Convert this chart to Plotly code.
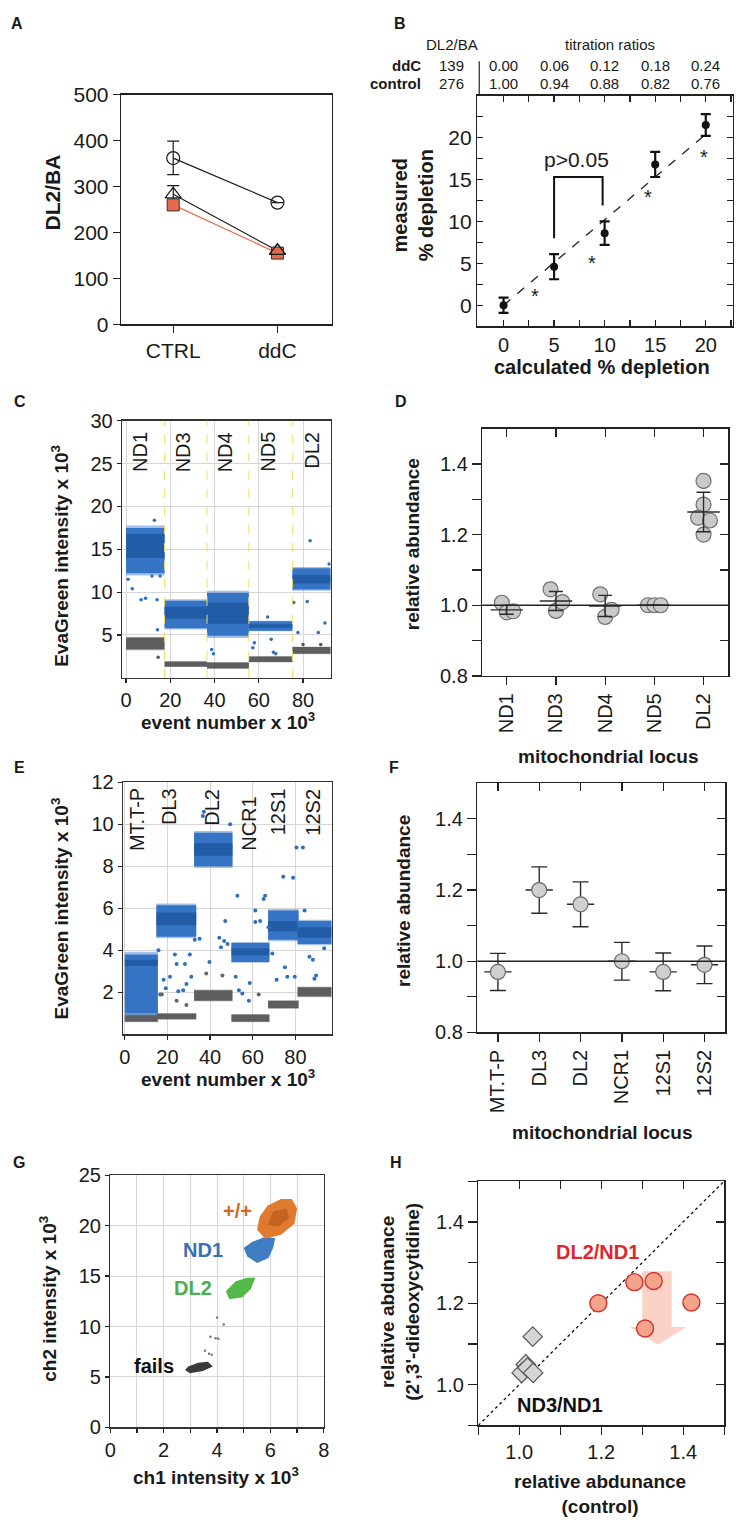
import plotly.graph_objects as go

W, H = 742, 1532
FONT = "Arial, 'Liberation Sans', Helvetica, sans-serif"
INK = "#1a1a1a"


def PX(x):
    return x / W


def PY(y):
    return 1 - y / H


# ---------------- data ----------------
# A
a_groups = ["CTRL", "ddC"]
a_pos = [0, 1]
a_circle = [362, 265]
a_circle_err_up = [37, 0]
a_circle_err_dn = [36, 0]
a_triangle = [283, 160]
a_triangle_err = [19, 0]
a_square = [260, 155]
a_yticks = [0, 100, 200, 300, 400, 500]

# B
b_calc = [0, 5, 10, 15, 20]
b_meas = [0.0, 4.6, 8.6, 16.8, 21.5]
b_err = [0.9, 1.5, 1.4, 1.5, 1.3]
b_fit_x = [0, 20]
b_fit_y = [0, 20.4]
b_star_x = [3.1, 8.7, 14.3, 19.8]
b_star_y = [1.7, 5.6, 13.5, 18.3]
b_bracket_x = [5, 5, 9.8, 9.8]
b_bracket_y = [8.0, 15.3, 15.3, 11.9]
b_ratio_ddc = ["0.00", "0.06", "0.12", "0.18", "0.24"]
b_ratio_ctrl = ["1.00", "0.94", "0.88", "0.82", "0.76"]
b_dl2ba = ["139", "276"]
b_xticks = [0, 2.5, 5, 7.5, 10, 12.5, 15, 17.5, 20, 22.5]
b_xticktext = ["0", "", "5", "", "10", "", "15", "", "20", ""]
b_yticks = [-2.5, 0, 2.5, 5, 7.5, 10, 12.5, 15, 17.5, 20, 22.5]
b_yticktext = ["", "0", "", "5", "", "10", "", "15", "", "20", ""]

# C
c_loci = ["ND1", "ND3", "ND4", "ND5", "DL2"]
c_label_x = [6.2, 25.8, 44.8, 64.4, 84.1]
c_seg_start = [0, 17.4, 36.6, 55.5, 75.2]
c_seg_end = [17.4, 36.6, 55.5, 75.2, 92.5]
c_blue_lo = [12.2, 5.8, 4.9, 5.5, 10.3]
c_blue_hi = [17.5, 9.0, 9.9, 6.6, 12.8]
c_core_lo = [14.0, 6.9, 6.3, 5.85, 11.0]
c_core_hi = [16.8, 8.3, 8.8, 6.25, 12.0]
c_gray_lo = [3.3, 1.3, 1.1, 1.85, 2.8]
c_gray_hi = [4.7, 1.9, 1.8, 2.5, 3.6]
c_out_x = [0.9, 2.8, 6.8, 8.8, 11.7, 12.8, 14.0, 15.4, 14.2, 38.7, 39.5, 57.3, 58.0,
           64.0, 65.6, 66.6, 67.7, 75.8, 77.7, 83.2, 81.9, 86.9, 89.9, 91.8]
c_out_y = [11.5, 10.4, 9.1, 9.3, 11.9, 18.4, 9.1, 11.9, 5.6, 3.3, 2.8, 3.5, 4.1,
           7.1, 4.5, 3.0, 2.8, 8.8, 5.3, 16.0, 8.9, 5.3, 6.4, 13.3]
c_gout_x = [14.5, 80.0, 88.0]
c_gout_y = [2.4, 3.9, 3.9]

# D
d_loci = ["ND1", "ND3", "ND4", "ND5", "DL2"]
d_pt_locus = [0, 0, 0, 1, 1, 1, 2, 2, 2, 3, 3, 3, 4, 4, 4, 4, 4]
d_pt_jitter = [-0.1, 0.0, 0.13, -0.11, 0.0, 0.13, -0.1, 0.0, 0.13, -0.13, 0.0, 0.13,
               0.0, 0.0, -0.11, 0.13, 0.0]
d_pt_val = [1.007, 0.98, 0.983, 1.045, 0.984, 1.009, 1.031, 0.967, 0.987,
            1.0, 1.0, 1.0, 1.352, 1.285, 1.248, 1.24, 1.2]
d_mean = [0.987, 1.012, 0.998, 1.0, 1.264]
d_sd = [0.0125, 0.027, 0.03, 0.0, 0.056]
rel_ticks = [0.8, 0.9, 1.0, 1.1, 1.2, 1.3, 1.4]
rel_ticktext = ["0.8", "", "1.0", "", "1.2", "", "1.4"]

# E
e_loci = ["MT.T-P", "DL3", "DL2", "NCR1", "12S1", "12S2"]
e_label_x = [5.8, 20.8, 40.8, 58.2, 72.0, 88.1]
e_label_top = [11.8, 11.8, 11.8, 11.4, 11.8, 11.8]
e_seg_start = [0, 14.8, 32.5, 50.0, 67.2, 81.0]
e_seg_end = [15.5, 33.5, 50.5, 67.8, 81.5, 97.0]
e_blue_lo = [1.0, 4.65, 8.0, 3.45, 4.5, 4.3]
e_blue_hi = [3.8, 6.15, 9.6, 4.35, 5.9, 5.4]
e_core_lo = [3.25, 5.2, 8.5, 3.75, 4.9, 4.6]
e_core_hi = [3.55, 5.8, 9.1, 4.1, 5.4, 5.1]
e_gray_lo = [0.6, 0.72, 1.6, 0.6, 1.25, 1.8]
e_gray_hi = [0.95, 1.0, 2.1, 0.95, 1.6, 2.25]
e_out_x = [15.8, 16.6, 18.2, 19.2, 21.2, 23.5, 24.3, 25.1, 27.4, 28.2, 28.9, 30.5, 31.2,
           32.8, 35.1, 36.6, 37.1, 39.7, 44.3, 45.1, 46.6, 47.1, 48.2, 49.4, 52.0, 52.8,
           53.5, 55.1, 58.2, 58.6, 61.2, 61.2, 63.5, 65.1, 65.8, 67.4, 69.2, 71.2, 74.3,
           75.1, 76.2, 78.9, 79.7, 80.5, 83.5, 84.3, 86.6, 88.2, 89.7, 88.9, 93.5]
e_out_y = [4.0, 1.9, 2.6, 2.2, 2.75, 3.8, 3.35, 2.05, 2.1, 3.35, 2.4, 3.8, 2.75,
           4.5, 4.55, 10.4, 10.6, 3.45, 4.6, 4.15, 4.45, 5.4, 4.3, 10.0, 2.75, 6.6,
           2.1, 1.95, 1.6, 2.45, 5.9, 5.35, 5.4, 6.45, 6.6, 5.1, 3.85, 2.6, 7.5,
           3.2, 2.75, 7.45, 2.75, 8.9, 8.9, 5.9, 3.7, 3.55, 2.8, 2.65, 4.1]
e_gout_x = [17.4, 24.3, 28.9, 38.2, 45.8, 62.8]
e_gout_y = [1.9, 1.6, 1.4, 2.9, 2.8, 1.9]

# F
f_loci = ["MT.T-P", "DL3", "DL2", "NCR1", "12S1", "12S2"]
f_val = [0.97, 1.20, 1.16, 1.00, 0.97, 0.99]
f_err = [0.052, 0.065, 0.063, 0.053, 0.053, 0.053]

# G
g_pp_x = [5.5, 5.8, 6.4, 6.9, 7.0, 6.8, 6.4, 5.9, 5.6, 5.5]
g_pp_y = [19.6, 18.7, 19.1, 20.2, 21.7, 22.65, 22.65, 22.0, 20.9, 19.6]
g_ppcore_x = [5.9, 6.3, 6.7, 6.6, 6.1, 5.9]
g_ppcore_y = [20.1, 19.9, 20.8, 21.7, 21.4, 20.1]
g_nd1_x = [5.0, 5.13, 5.5, 5.93, 6.1, 6.18, 5.81, 5.32, 5.0]
g_nd1_y = [17.8, 16.95, 16.3, 16.8, 17.8, 18.75, 18.9, 18.4, 17.8]
g_dl2_x = [4.33, 4.46, 4.95, 5.26, 5.44, 5.13, 4.7, 4.33]
g_dl2_y = [13.5, 12.7, 12.9, 13.7, 14.83, 14.83, 14.5, 13.5]
g_fail_x = [2.8, 2.98, 3.47, 3.84, 3.66, 3.29, 2.92, 2.8]
g_fail_y = [5.7, 5.38, 5.6, 6.03, 6.5, 6.4, 6.03, 5.7]
g_stray_x = [4.0, 4.25, 3.75, 3.95, 4.05, 3.55, 3.7, 3.8]
g_stray_y = [10.9, 10.2, 9.0, 8.85, 8.8, 7.6, 7.3, 7.2]
g_xticks = [0, 1, 2, 3, 4, 5, 6, 7, 8]
g_xticktext = ["0", "", "2", "", "4", "", "6", "", "8"]
g_yticks = [0, 5, 10, 15, 20, 25]

# H
h_dl2_x = [1.193, 1.281, 1.328, 1.42, 1.307]
h_dl2_y = [1.200, 1.252, 1.255, 1.202, 1.138]
h_nd3_x = [1.033, 1.016, 1.006, 1.020, 1.034]
h_nd3_y = [1.118, 1.050, 1.029, 1.042, 1.029]
h_diag = [0.9, 1.5]
h_arrow_x = [1.300, 1.372, 1.372, 1.408, 1.338, 1.269, 1.300, 1.300]
h_arrow_y = [1.279, 1.279, 1.142, 1.142, 1.098, 1.142, 1.142, 1.279]
h_ticks = [0.9, 1.0, 1.1, 1.2, 1.3, 1.4, 1.5]
h_ticktext = ["", "1.0", "", "1.2", "", "1.4", ""]

# ---------------- figure ----------------
fig = go.Figure()


def rect(x0, x1, y0, y1):
    return [x0, x1, x1, x0, x0], [y0, y0, y1, y1, y0]


def poly(x, y, color, xa, ya, opacity=1.0):
    fig.add_trace(go.Scatter(x=x, y=y, mode="lines", fill="toself", fillcolor=color,
                             line=dict(width=0, color=color), opacity=opacity,
                             xaxis=xa, yaxis=ya, hoverinfo="skip"))


def bands(starts, ends, glo, ghi, blo, bhi, clo, chi, xa, ya):
    for i in range(len(starts)):
        pad = 0.07 * (ghi[i] - glo[i])
        x, y = rect(starts[i], ends[i], glo[i] - pad, ghi[i] + pad)
        poly(x, y, "#8a8a8a", xa, ya, opacity=0.45)
        x, y = rect(starts[i], ends[i], glo[i], ghi[i])
        poly(x, y, "#5e5e5e", xa, ya)
        pad = 0.05 * (bhi[i] - blo[i])
        x, y = rect(starts[i], ends[i], blo[i] - pad, bhi[i] + pad)
        poly(x, y, "#4a86d0", xa, ya, opacity=0.5)
        x, y = rect(starts[i], ends[i], blo[i], bhi[i])
        poly(x, y, "#3574c4", xa, ya)
        x, y = rect(starts[i], ends[i], clo[i], chi[i])
        poly(x, y, "#1d549c", xa, ya, opacity=0.75)


# ---- A ----
fig.add_trace(go.Scatter(x=a_pos, y=a_circle, mode="lines+markers", xaxis="x", yaxis="y",
                         line=dict(color=INK, width=1.2),
                         marker=dict(symbol="circle-open", size=13, color=INK, line=dict(width=1.2)),
                         error_y=dict(type="data", array=a_circle_err_up, arrayminus=a_circle_err_dn,
                                      color=INK, thickness=1.2, width=6)))
fig.add_trace(go.Scatter(x=a_pos, y=a_triangle, mode="lines+markers", xaxis="x", yaxis="y",
                         line=dict(color=INK, width=1.2),
                         marker=dict(symbol="triangle-up-open", size=14, color=INK, line=dict(width=1.2)),
                         error_y=dict(type="data", array=a_triangle_err, color=INK, thickness=1.2, width=6)))
fig.add_trace(go.Scatter(x=a_pos, y=a_square, mode="lines+markers", xaxis="x", yaxis="y",
                         line=dict(color="#e8704f", width=1.2),
                         marker=dict(symbol="square", size=12, color="#e5694a",
                                     line=dict(color="#333", width=1))))
fig.add_trace(go.Scatter(x=a_pos[1:], y=a_triangle[1:], mode="markers", xaxis="x", yaxis="y",
                         marker=dict(symbol="triangle-up-open", size=14, color=INK, line=dict(width=1.2))))

# ---- B ----
fig.add_trace(go.Scatter(x=b_fit_x, y=b_fit_y, mode="lines", xaxis="x2", yaxis="y2",
                         line=dict(color="#222", width=1.3, dash="dash")))
fig.add_trace(go.Scatter(x=b_bracket_x, y=b_bracket_y, mode="lines", xaxis="x2", yaxis="y2",
                         line=dict(color="#111", width=2)))
fig.add_trace(go.Scatter(x=b_calc, y=b_meas, mode="markers", xaxis="x2", yaxis="y2",
                         marker=dict(size=8, color="#111"),
                         error_y=dict(type="data", array=b_err, color="#111", thickness=2.2, width=5)))

# ---- C ----
bands(c_seg_start, c_seg_end, c_gray_lo, c_gray_hi, c_blue_lo, c_blue_hi, c_core_lo, c_core_hi,
      "x3", "y3")
fig.add_trace(go.Scatter(x=c_out_x, y=c_out_y, mode="markers", xaxis="x3", yaxis="y3",
                         marker=dict(size=3.5, color="#2e6fc0")))
fig.add_trace(go.Scatter(x=c_gout_x, y=c_gout_y, mode="markers", xaxis="x3", yaxis="y3",
                         marker=dict(size=3.5, color="#555")))

# ---- D ----
fig.add_trace(go.Scatter(x=[d_pt_locus[i] + d_pt_jitter[i] for i in range(len(d_pt_val))],
                         y=d_pt_val, mode="markers", xaxis="x4", yaxis="y4",
                         marker=dict(size=15, color="#c9c9c9", line=dict(color="#707070", width=1.2))))
fig.add_trace(go.Scatter(x=list(range(len(d_loci))), y=d_mean, mode="markers", xaxis="x4", yaxis="y4",
                         marker=dict(size=1, color="rgba(0,0,0,0)"),
                         error_y=dict(type="data", array=d_sd, color="#2a2a2a", thickness=1.4, width=7),
                         error_x=dict(type="constant", value=0.33, color="#2a2a2a", thickness=1.4, width=0)))

# ---- E ----
bands(e_seg_start, e_seg_end, e_gray_lo, e_gray_hi, e_blue_lo, e_blue_hi, e_core_lo, e_core_hi,
      "x5", "y5")
fig.add_trace(go.Scatter(x=e_out_x, y=e_out_y, mode="markers", xaxis="x5", yaxis="y5",
                         marker=dict(size=4, color="#2e6fc0")))
fig.add_trace(go.Scatter(x=e_gout_x, y=e_gout_y, mode="markers", xaxis="x5", yaxis="y5",
                         marker=dict(size=4, color="#666")))

# ---- F ----
fig.add_trace(go.Scatter(x=list(range(len(f_loci))), y=f_val, mode="markers", xaxis="x6", yaxis="y6",
                         marker=dict(size=15, color="#cfcfcf", line=dict(color="#6a6a6a", width=1.2)),
                         error_y=dict(type="data", array=f_err, color="#2a2a2a", thickness=1.4, width=8),
                         error_x=dict(type="constant", value=0.33, color="#2a2a2a", thickness=1.4, width=0)))

# ---- G ----
poly(g_fail_x, g_fail_y, "#3a3a3a", "x7", "y7")
poly(g_dl2_x, g_dl2_y, "#52b848", "x7", "y7")
poly(g_nd1_x, g_nd1_y, "#3f7cc2", "x7", "y7")
poly(g_pp_x, g_pp_y, "#e07a2e", "x7", "y7")
poly(g_ppcore_x, g_ppcore_y, "#b85a1e", "x7", "y7", opacity=0.7)
fig.add_trace(go.Scatter(x=g_stray_x, y=g_stray_y, mode="markers", xaxis="x7", yaxis="y7",
                         marker=dict(size=2.5, color="#777")))

# ---- H ----
fig.add_trace(go.Scatter(x=h_diag, y=h_diag, mode="lines", xaxis="x8", yaxis="y8",
                         line=dict(color="#111", width=1.3, dash="dot")))
poly(h_arrow_x, h_arrow_y, "rgba(244,150,120,0.42)", "x8", "y8")
fig.add_trace(go.Scatter(x=h_nd3_x, y=h_nd3_y, mode="markers", xaxis="x8", yaxis="y8",
                         marker=dict(symbol="diamond", size=15, color="#d4d4d4",
                                     line=dict(color="#555", width=1.2))))
fig.add_trace(go.Scatter(x=h_dl2_x, y=h_dl2_y, mode="markers", xaxis="x8", yaxis="y8",
                         marker=dict(size=17, color="#f4a48a", line=dict(color="#d7302a", width=1.4))))

# dummy traces for overlay tick axes
for k in (9, 10, 11):
    fig.add_trace(go.Scatter(x=[None], y=[None], xaxis=f"x{k}", yaxis=f"y{k}", mode="markers"))

# ---------------- axes ----------------
tickfont = dict(family=FONT, size=20, color=INK)


def axis(domain, rng, anchor, **kw):
    d = dict(domain=domain, range=rng, anchor=anchor, showgrid=False, zeroline=False,
             showline=True, linecolor="#222", linewidth=1.4, mirror=True,
             ticks="outside", ticklen=7, tickwidth=1.3, tickcolor="#222",
             tickfont=tickfont, fixedrange=True)
    d.update(kw)
    return d


lay = {}
# A
lay["xaxis"] = axis([PX(117), PX(331)], [-0.5, 1.52], "y", tickmode="array", tickvals=a_pos,
                    ticktext=a_groups, tickfont=dict(family=FONT, size=21, color=INK))
lay["yaxis"] = axis([PY(317), PY(84)], [0, 500], "x", tickmode="array", tickvals=a_yticks,
                    tickfont=dict(family=FONT, size=21, color=INK))
# B
lay["xaxis2"] = axis([PX(479), PX(739)], [-2.6, 22.7], "y2", tickmode="array", tickvals=b_xticks,
                     ticktext=b_xticktext, ticks="inside", mirror="allticks", ticklen=6,
                     tickfont=dict(family=FONT, size=20, color=INK))
lay["yaxis2"] = axis([PY(319), PY(85)], [-2.5, 25], "x2", tickmode="array", tickvals=b_yticks,
                     ticktext=b_yticktext, ticks="inside", mirror="allticks", ticklen=6,
                     tickfont=dict(family=FONT, size=21, color=INK))
# C
grid = dict(showgrid=True, gridcolor="#d6d6d6", gridwidth=1, linecolor="#333", ticklen=4)
lay["xaxis3"] = axis([PX(118), PX(330)], [-1.8, 92.5], "y3", tickmode="array",
                     tickvals=[0, 20, 40, 60, 80], **grid)
lay["yaxis3"] = axis([PY(676), PY(415)], [0, 30], "x3", tickmode="array",
                     tickvals=[5, 10, 15, 20, 25, 30], **grid)
# D
lay["xaxis4"] = axis([PX(484), PX(734)], [-0.5, 4.5], "y4", tickmode="array",
                     tickvals=list(range(len(d_loci))), ticktext=d_loci, tickangle=-90, ticklen=8)
lay["yaxis4"] = axis([PY(674), PY(423)], [0.8, 1.5], "x4", tickmode="array",
                     tickvals=rel_ticks, ticktext=rel_ticktext, ticklen=9)
# E
lay["xaxis5"] = axis([PX(119), PX(331)], [-0.8, 97], "y5", tickmode="array",
                     tickvals=[0, 20, 40, 60, 80], **grid)
lay["yaxis5"] = axis([PY(1038), PY(782)], [0, 12], "x5", tickmode="array",
                     tickvals=[2, 4, 6, 8, 10, 12], **grid)
# F
lay["xaxis6"] = axis([PX(479), PX(731)], [-0.5, 5.5], "y6", tickmode="array",
                     tickvals=list(range(len(f_loci))), ticktext=f_loci, tickangle=-90, ticklen=8)
lay["yaxis6"] = axis([PY(1036), PY(783)], [0.8, 1.5], "x6", tickmode="array",
                     tickvals=rel_ticks, ticktext=rel_ticktext, ticklen=9)
# G
lay["xaxis7"] = axis([PX(106), PX(323)], [0, 8], "y7", tickmode="array", tickvals=g_xticks,
                     ticktext=g_xticktext, **grid)
lay["yaxis7"] = axis([PY(1437), PY(1181)], [0, 25], "x7", tickmode="array", tickvals=g_yticks, **grid)
# H
lay["xaxis8"] = axis([PX(480), PX(730)], [0.9, 1.5], "y8", tickmode="array", tickvals=h_ticks,
                     ticktext=h_ticktext, ticklen=8)
lay["yaxis8"] = axis([PY(1435), PY(1187)], [0.9, 1.5], "x8", tickmode="array", tickvals=h_ticks,
                     ticktext=h_ticktext, ticklen=9)


# overlay axes giving the inward-pointing mirrored ticks of D, F, H
def mirror_axes(k, main, xr, yr, xt, yt):
    common = dict(tickmode="array", ticks="inside", ticklen=8, tickwidth=1.3, tickcolor="#222",
                  showticklabels=False, showline=False, showgrid=False, zeroline=False,
                  fixedrange=True)
    lay[f"xaxis{k}"] = dict(overlaying=f"x{main}", side="top", anchor=f"y{k}", range=xr,
                            tickvals=xt, **common)
    lay[f"yaxis{k}"] = dict(overlaying=f"y{main}", side="right", anchor=f"x{k}", range=yr,
                            tickvals=yt, **common)


mirror_axes(9, 4, [-0.5, 4.5], [0.8, 1.5], list(range(len(d_loci))), rel_ticks)
mirror_axes(10, 6, [-0.5, 5.5], [0.8, 1.5], list(range(len(f_loci))), rel_ticks)
mirror_axes(11, 8, [0.9, 1.5], [0.9, 1.5], h_ticks, h_ticks)

# ---------------- shapes ----------------
shapes = []
for xb in c_seg_end[:-1]:
    shapes.append(dict(type="line", xref="x3", yref="y3 domain", x0=xb, x1=xb, y0=0, y1=1,
                       line=dict(color="#f0e060", width=1, dash="dash")))
for xa, ya in (("x4", "y4"), ("x6", "y6")):
    shapes.append(dict(type="line", xref=f"{xa} domain", yref=ya, x0=0, x1=1, y0=1.0, y1=1.0,
                       line=dict(color="#222", width=1.4)))
# table separator of B
shapes.append(dict(type="line", xref="paper", yref="paper", x0=PX(481), x1=PX(481),
                   y0=PY(85), y1=PY(50), line=dict(color="#222", width=1.2)))

# ---------------- annotations ----------------
ann = []


def T(text, x, y, size=20, bold=False, color=INK, angle=0, xanchor="center",
      yanchor="middle", xref="paper", yref="paper", yshift=0):
    if xref == "paper":
        x = PX(x)
    if yref == "paper":
        y = PY(y)
    ann.append(dict(text=f"<b>{text}</b>" if bold else text, x=x, y=y, xref=xref, yref=yref,
                    showarrow=False, textangle=angle, xanchor=xanchor, yanchor=yanchor,
                    yshift=yshift, font=dict(family=FONT, size=size, color=color)))


# panel letters
for letter, x, y in (("A", 3, 12), ("B", 392, 12), ("C", 6, 395), ("D", 393, 395),
                     ("E", 6, 767), ("F", 387, 767), ("G", 5, 1168), ("H", 388, 1168)):
    T(letter, x, y, size=16, bold=True, xanchor="left")

# A
T("DL2/BA", 47, 183, size=21, bold=True, angle=-90)

# B
T("DL2/BA", 453, 33, size=15)
T("titration ratios", 614, 33, size=15)
T("ddC", 424, 54, size=15, bold=True, xanchor="right")
T("control", 424, 73, size=15, bold=True, xanchor="right")
T(b_dl2ba[0], 453, 54, size=15)
T(b_dl2ba[1], 453, 73, size=15)
for i, xv in enumerate(b_calc):
    T(b_ratio_ddc[i], xv, 54, size=15, xref="x2")
    T(b_ratio_ctrl[i], xv, 73, size=15, xref="x2")
for xs, ys in zip(b_star_x, b_star_y):
    T("*", xs, ys, size=20, xref="x2", yref="y2", yshift=-5)
T("p>0.05", 7.2, 17.4, size=21, xref="x2", yref="y2")
T("calculated % depletion", 606, 360, size=20, bold=True)
T("measured<br>% depletion", 414, 196, size=20, bold=True, angle=-90)

# C
for lab, xv in zip(c_loci, c_label_x):
    T(lab, xv, 28.9, size=20, angle=-90, xref="x3", yref="y3", yanchor="top")
T("EvaGreen intensity x 10<sup>3</sup>", 55, 552, size=19, bold=True, angle=-90)
T("event number x 10<sup>3</sup>", 226, 720, size=19, bold=True)

# D
T("relative abundance", 414, 540, size=19, bold=True, angle=-90)
T("mitochondrial locus", 612, 756, size=19, bold=True)

# E
for lab, xv, yt in zip(e_loci, e_label_x, e_label_top):
    T(lab, xv, yt, size=20, angle=-90, xref="x5", yref="y5", yanchor="top")
T("EvaGreen intensity x 10<sup>3</sup>", 55, 910, size=19, bold=True, angle=-90)
T("event number x 10<sup>3</sup>", 226, 1082, size=19, bold=True)

# F
T("relative abundance", 404, 902, size=19, bold=True, angle=-90)
T("mitochondrial locus", 606, 1138, size=19, bold=True)

# G
T("+/+", 4.76, 21.45, size=20, bold=True, color="#d2691e", xref="x7", yref="y7")
T("ND1", 3.47, 17.6, size=20, bold=True, color="#3a70b5", xref="x7", yref="y7")
T("DL2", 3.1, 13.85, size=20, bold=True, color="#4cae4c", xref="x7", yref="y7")
T("fails", 1.62, 6.1, size=20, bold=True, color="#111", xref="x7", yref="y7")
T("ch2 intensity x 10<sup>3</sup>", 43, 1306, size=19, bold=True, angle=-90)
T("ch1 intensity x 10<sup>3</sup>", 213, 1486, size=19, bold=True)

# H
T("DL2/ND1", 1.19, 1.326, size=20, bold=True, color="#e0262b", xref="x8", yref="y8")
T("ND3/ND1", 1.10, 0.95, size=20, bold=True, color="#111", xref="x8", yref="y8")
T("relative abdunance<br>(2',3'-dideoxycytidine)", 401, 1310, size=19, bold=True, angle=-90)
T("relative abdunance<br>(control)", 604, 1505, size=19, bold=True)

fig.update_layout(width=W, height=H, margin=dict(l=0, r=0, t=0, b=0),
                  paper_bgcolor="white", plot_bgcolor="white", showlegend=False,
                  shapes=shapes, annotations=ann, font=dict(family=FONT, color=INK), **lay)

# remove the default 8px body margin so the figure fills the 742x1532 window exactly;
# static plot: no mode bar or hover decorations in the photograph
fig.write_html("out.html",
               config={"staticPlot": True, "displayModeBar": False},
               post_script="document.body.style.margin='0';"
                           "document.documentElement.style.overflow='hidden';")
